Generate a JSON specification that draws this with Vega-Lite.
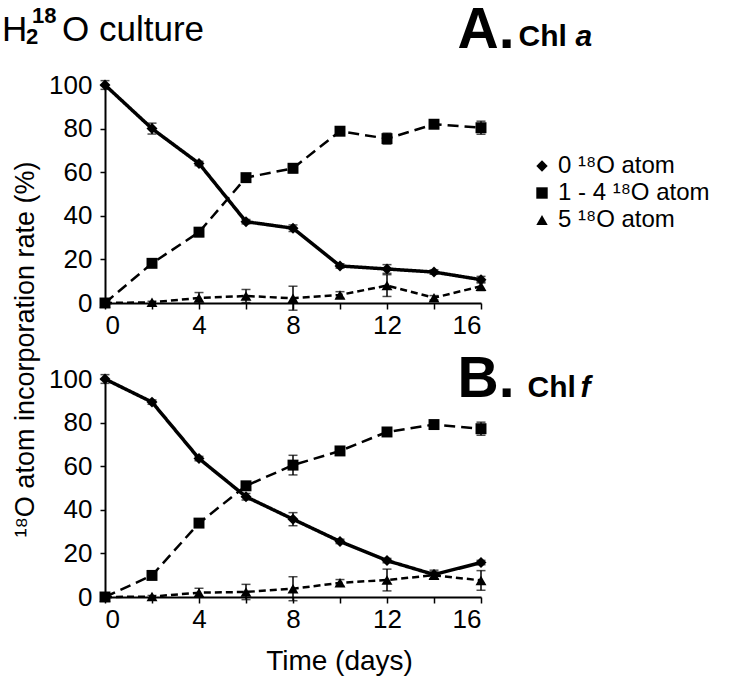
{
  "$schema": "https://vega.github.io/schema/vega-lite/v6.json",
  "padding": {"left": 2, "top": 1, "right": 5, "bottom": 5},
  "bounds": "flush",
  "spacing": 76,
  "resolve": {"legend": {"shape": "independent"}, "scale": {"shape": "independent", "strokeDash": "independent"}},
  "config": {
    "font": "Liberation Sans",
    "view": {"stroke": null},
    "axis": {
      "labelFont": "Liberation Sans", "titleFont": "Liberation Sans",
      "labelColor": "black", "titleColor": "black",
      "domainColor": "black", "tickColor": "black",
      "domainWidth": 2, "tickWidth": 1.5, "grid": false,
      "labelFontSize": 26, "titleFontSize": 28, "titleFontWeight": "normal"
    },
    "legend": {"labelFont": "Liberation Sans", "labelColor": "black"}
  },
  "datasets": {
    "A": [
      {"d": 0, "s": "0 ¹⁸O atom", "v": 100, "e": 2},
      {"d": 2, "s": "0 ¹⁸O atom", "v": 80, "e": 2.5},
      {"d": 4, "s": "0 ¹⁸O atom", "v": 64, "e": 1},
      {"d": 6, "s": "0 ¹⁸O atom", "v": 37.3, "e": 1},
      {"d": 8, "s": "0 ¹⁸O atom", "v": 34.3, "e": 1.5},
      {"d": 10, "s": "0 ¹⁸O atom", "v": 17, "e": 1},
      {"d": 12, "s": "0 ¹⁸O atom", "v": 15.6, "e": 2},
      {"d": 14, "s": "0 ¹⁸O atom", "v": 14.2, "e": 1},
      {"d": 16, "s": "0 ¹⁸O atom", "v": 10.7, "e": 1.5},
      {"d": 0, "s": "1 - 4 ¹⁸O atom", "v": 0, "e": 0},
      {"d": 2, "s": "1 - 4 ¹⁸O atom", "v": 18.2, "e": 1},
      {"d": 4, "s": "1 - 4 ¹⁸O atom", "v": 32.5, "e": 2},
      {"d": 6, "s": "1 - 4 ¹⁸O atom", "v": 57.5, "e": 1.5},
      {"d": 8, "s": "1 - 4 ¹⁸O atom", "v": 61.8, "e": 2},
      {"d": 10, "s": "1 - 4 ¹⁸O atom", "v": 78.8, "e": 1},
      {"d": 12, "s": "1 - 4 ¹⁸O atom", "v": 75.4, "e": 2.5},
      {"d": 14, "s": "1 - 4 ¹⁸O atom", "v": 82, "e": 1},
      {"d": 16, "s": "1 - 4 ¹⁸O atom", "v": 80.4, "e": 3},
      {"d": 0, "s": "5 ¹⁸O atom", "v": 0, "e": 0},
      {"d": 2, "s": "5 ¹⁸O atom", "v": 0.3, "e": 0.5},
      {"d": 4, "s": "5 ¹⁸O atom", "v": 2.3, "e": 2.5},
      {"d": 6, "s": "5 ¹⁸O atom", "v": 3.2, "e": 3},
      {"d": 8, "s": "5 ¹⁸O atom", "v": 2.2, "e": 5.5},
      {"d": 10, "s": "5 ¹⁸O atom", "v": 3.7, "e": 1.5},
      {"d": 12, "s": "5 ¹⁸O atom", "v": 8, "e": 5},
      {"d": 14, "s": "5 ¹⁸O atom", "v": 2.4, "e": 1},
      {"d": 16, "s": "5 ¹⁸O atom", "v": 7.7, "e": 2}
    ],
    "B": [
      {"d": 0, "s": "0 ¹⁸O atom", "v": 100, "e": 2},
      {"d": 2, "s": "0 ¹⁸O atom", "v": 89.4, "e": 1},
      {"d": 4, "s": "0 ¹⁸O atom", "v": 63.5, "e": 1},
      {"d": 6, "s": "0 ¹⁸O atom", "v": 46, "e": 1.5},
      {"d": 8, "s": "0 ¹⁸O atom", "v": 35.7, "e": 3},
      {"d": 10, "s": "0 ¹⁸O atom", "v": 25.5, "e": 1},
      {"d": 12, "s": "0 ¹⁸O atom", "v": 16.7, "e": 1},
      {"d": 14, "s": "0 ¹⁸O atom", "v": 10.3, "e": 2},
      {"d": 16, "s": "0 ¹⁸O atom", "v": 15.8, "e": 1},
      {"d": 0, "s": "1 - 4 ¹⁸O atom", "v": 0, "e": 0},
      {"d": 2, "s": "1 - 4 ¹⁸O atom", "v": 9.9, "e": 1},
      {"d": 4, "s": "1 - 4 ¹⁸O atom", "v": 33.9, "e": 1.5},
      {"d": 6, "s": "1 - 4 ¹⁸O atom", "v": 51, "e": 1.5},
      {"d": 8, "s": "1 - 4 ¹⁸O atom", "v": 60.5, "e": 4.5},
      {"d": 10, "s": "1 - 4 ¹⁸O atom", "v": 67, "e": 1},
      {"d": 12, "s": "1 - 4 ¹⁸O atom", "v": 75.7, "e": 1},
      {"d": 14, "s": "1 - 4 ¹⁸O atom", "v": 79.1, "e": 1},
      {"d": 16, "s": "1 - 4 ¹⁸O atom", "v": 77.2, "e": 3},
      {"d": 0, "s": "5 ¹⁸O atom", "v": 0, "e": 0},
      {"d": 2, "s": "5 ¹⁸O atom", "v": 0.2, "e": 0.5},
      {"d": 4, "s": "5 ¹⁸O atom", "v": 2, "e": 2},
      {"d": 6, "s": "5 ¹⁸O atom", "v": 2.3, "e": 3.5},
      {"d": 8, "s": "5 ¹⁸O atom", "v": 3.8, "e": 5.5},
      {"d": 10, "s": "5 ¹⁸O atom", "v": 6.5, "e": 1.5},
      {"d": 12, "s": "5 ¹⁸O atom", "v": 7.8, "e": 5},
      {"d": 14, "s": "5 ¹⁸O atom", "v": 10, "e": 1.5},
      {"d": 16, "s": "5 ¹⁸O atom", "v": 7.6, "e": 4.5}
    ]
  },
  "vconcat": [
    {
      "width": 376, "height": 218,
      "layer": [
        {
          "data": {"name": "A"},
          "mark": {"type": "errorbar", "ticks": {"size": 9}, "thickness": 1.5, "color": "black"},
          "encoding": {
            "x": {"field": "d", "type": "quantitative", "scale": {"domain": [0, 16], "nice": false},
              "axis": {"title": null, "values": [0, 2, 4, 6, 8, 10, 12, 14, 16], "labelExpr": "datum.value % 4 === 0 ? datum.label : ''", "tickSize": 6, "labelPadding": 3}},
            "y": {"field": "v", "type": "quantitative", "scale": {"domain": [0, 100], "nice": false},
              "axis": {"title": "¹⁸O atom incorporation rate (%)", "values": [0, 20, 40, 60, 80, 100], "tickSize": 5, "labelPadding": 8,
                "titleX": -72, "titleY": 264, "titleAngle": 270, "titleAlign": "center", "titleBaseline": "alphabetic", "titleFontSize": 27}},
            "yError": {"field": "e"}
          }
        },
        {
          "data": {"name": "A"},
          "mark": {"type": "line", "color": "black"},
          "encoding": {
            "x": {"field": "d", "type": "quantitative"},
            "y": {"field": "v", "type": "quantitative"},
            "strokeDash": {"field": "s", "type": "nominal", "legend": null,
              "scale": {"range": [[1, 0], [11, 6], [7, 4]]}},
            "strokeWidth": {"condition": {"test": "datum.s === '0 ¹⁸O atom'", "value": 3.5}, "value": 2.5}
          }
        },
        {
          "data": {"name": "A"},
          "mark": {"type": "point", "filled": true, "color": "black", "opacity": 1, "size": 120},
          "encoding": {
            "x": {"field": "d", "type": "quantitative"},
            "y": {"field": "v", "type": "quantitative"},
            "shape": {"field": "s", "type": "nominal",
              "scale": {"domain": ["0 ¹⁸O atom", "1 - 4 ¹⁸O atom", "5 ¹⁸O atom"], "range": ["diamond", "square", "triangle-up"]},
              "legend": {
                "title": null, "orient": "none", "legendX": 425, "legendY": 69, "padding": 0,
                "symbolSize": 130, "symbolStrokeWidth": 2, "symbolFillColor": "black", "symbolStrokeColor": "black", "symbolOpacity": 1,
                "labelFontSize": 24, "labelOffset": 4, "rowPadding": 3
              }}
          }
        },
        {
          "data": {"values": [{"t": "A."}]},
          "mark": {"type": "text", "fontSize": 57, "fontWeight": "bold", "align": "left", "baseline": "alphabetic", "color": "black"},
          "encoding": {"x": {"datum": 15}, "y": {"datum": 117}, "text": {"field": "t"}}
        },
        {
          "data": {"values": [{"t": "Chl"}]},
          "mark": {"type": "text", "fontSize": 30, "fontWeight": "bold", "align": "left", "baseline": "alphabetic", "color": "black", "dx": 61, "dy": -2},
          "encoding": {"x": {"datum": 15}, "y": {"datum": 117}, "text": {"field": "t"}}
        },
        {
          "data": {"values": [{"t": "a"}]},
          "mark": {"type": "text", "fontSize": 30, "fontWeight": "bold", "fontStyle": "italic", "align": "left", "baseline": "alphabetic", "color": "black", "dx": 118, "dy": -2},
          "encoding": {"x": {"datum": 15}, "y": {"datum": 117}, "text": {"field": "t"}}
        },
        {
          "data": {"values": [{"t": "H"}]},
          "mark": {"type": "text", "fontSize": 35, "align": "left", "baseline": "alphabetic", "color": "black", "dx": -103, "dy": -7},
          "encoding": {"x": {"datum": 0}, "y": {"datum": 117}, "text": {"field": "t"}}
        },
        {
          "data": {"values": [{"t": "2"}]},
          "mark": {"type": "text", "fontSize": 22, "fontWeight": "bold", "align": "left", "baseline": "alphabetic", "color": "black", "dx": -79, "dy": -4},
          "encoding": {"x": {"datum": 0}, "y": {"datum": 117}, "text": {"field": "t"}}
        },
        {
          "data": {"values": [{"t": "18"}]},
          "mark": {"type": "text", "fontSize": 22, "fontWeight": "bold", "align": "left", "baseline": "alphabetic", "color": "black", "dx": -73, "dy": -25},
          "encoding": {"x": {"datum": 0}, "y": {"datum": 117}, "text": {"field": "t"}}
        },
        {
          "data": {"values": [{"t": "O culture"}]},
          "mark": {"type": "text", "fontSize": 35, "align": "left", "baseline": "alphabetic", "color": "black", "dx": -43, "dy": -7},
          "encoding": {"x": {"datum": 0}, "y": {"datum": 117}, "text": {"field": "t"}}
        }
      ]
    },
    {
      "width": 376, "height": 218,
      "layer": [
        {
          "data": {"name": "B"},
          "mark": {"type": "errorbar", "ticks": {"size": 9}, "thickness": 1.5, "color": "black"},
          "encoding": {
            "x": {"field": "d", "type": "quantitative", "scale": {"domain": [0, 16], "nice": false},
              "axis": {"title": "Time (days)", "values": [0, 2, 4, 6, 8, 10, 12, 14, 16], "labelExpr": "datum.value % 4 === 0 ? datum.label : ''", "tickSize": 6, "labelPadding": 3,
                "titleX": 234, "titleY": 72, "titleAlign": "center", "titleBaseline": "alphabetic"}},
            "y": {"field": "v", "type": "quantitative", "scale": {"domain": [0, 100], "nice": false},
              "axis": {"title": null, "values": [0, 20, 40, 60, 80, 100], "tickSize": 5, "labelPadding": 8}},
            "yError": {"field": "e"}
          }
        },
        {
          "data": {"name": "B"},
          "mark": {"type": "line", "color": "black"},
          "encoding": {
            "x": {"field": "d", "type": "quantitative"},
            "y": {"field": "v", "type": "quantitative"},
            "strokeDash": {"field": "s", "type": "nominal", "legend": null,
              "scale": {"range": [[1, 0], [11, 6], [7, 4]]}},
            "strokeWidth": {"condition": {"test": "datum.s === '0 ¹⁸O atom'", "value": 3.5}, "value": 2.5}
          }
        },
        {
          "data": {"name": "B"},
          "mark": {"type": "point", "filled": true, "color": "black", "opacity": 1, "size": 120},
          "encoding": {
            "x": {"field": "d", "type": "quantitative"},
            "y": {"field": "v", "type": "quantitative"},
            "shape": {"field": "s", "type": "nominal", "legend": null,
              "scale": {"domain": ["0 ¹⁸O atom", "1 - 4 ¹⁸O atom", "5 ¹⁸O atom"], "range": ["diamond", "square", "triangle-up"]}}
          }
        },
        {
          "data": {"values": [{"t": "B."}]},
          "mark": {"type": "text", "fontSize": 57, "fontWeight": "bold", "align": "left", "baseline": "alphabetic", "color": "black"},
          "encoding": {"x": {"datum": 15}, "y": {"datum": 91.8}, "text": {"field": "t"}}
        },
        {
          "data": {"values": [{"t": "Chl"}]},
          "mark": {"type": "text", "fontSize": 30, "fontWeight": "bold", "align": "left", "baseline": "alphabetic", "color": "black", "dx": 70},
          "encoding": {"x": {"datum": 15}, "y": {"datum": 91.8}, "text": {"field": "t"}}
        },
        {
          "data": {"values": [{"t": "f"}]},
          "mark": {"type": "text", "fontSize": 30, "fontWeight": "bold", "fontStyle": "italic", "align": "left", "baseline": "alphabetic", "color": "black", "dx": 123},
          "encoding": {"x": {"datum": 15}, "y": {"datum": 91.8}, "text": {"field": "t"}}
        }
      ]
    }
  ]
}
